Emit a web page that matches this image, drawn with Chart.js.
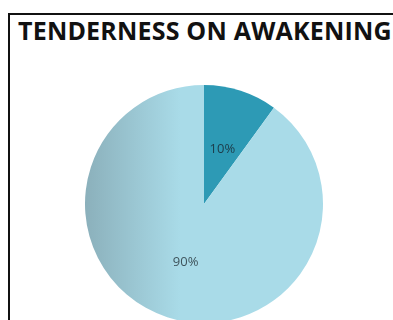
<!DOCTYPE html>
<html>
<head>
<meta charset="utf-8">
<script src="https://cdn.jsdelivr.net/npm/chart.js@4"></script>
<style>
  html, body { margin: 0; padding: 0; background: #fff; width: 393px; height: 320px; overflow: hidden; }
  .frame { position: absolute; left: 8px; top: 13px; width: 420px; height: 340px;
           border-left: 2px solid #111; border-top: 2px solid #111; }
  .title { position: absolute; left: 18px; top: 13px; font: bold 25px "Open Sans", sans-serif;
           color: #111; white-space: nowrap; letter-spacing: 0.2px; }
  .pie { position: absolute; left: 85px; top: 85px; width: 238px; height: 238px; }
</style>
</head>
<body>
<div class="frame"></div>
<div class="title">TENDERNESS ON AWAKENING</div>
<div class="pie"><canvas id="pie"></canvas></div>
<script>
// 卡片：醒来时的压痛
const labels = ['Yes', 'No'];
const values = [10, 90];
const pctLabels = ['10%', '90%'];
const sliceColors = ['#2d9ab5', '#a9dbe8'];
const labelColors = ['#1d3c4a', '#3f545c'];

// 90% 扇区左侧有一点渐变
function lightFill(ctx) {
  const area = ctx.chart.chartArea;
  if (!area) return sliceColors[1];
  const g = ctx.chart.ctx.createLinearGradient(area.left, 0, area.left + 95, 0);
  g.addColorStop(0, '#8bb0bb');
  g.addColorStop(1, sliceColors[1]);
  return g;
}

const pctPlugin = {
  id: 'pctLabels',
  afterDatasetsDraw(chart) {
    const c = chart.ctx;
    const arcs = chart.getDatasetMeta(0).data;
    c.save();
    c.font = '13px "Open Sans", sans-serif';
    c.textAlign = 'center';
    c.textBaseline = 'middle';
    arcs.forEach((arc, i) => {
      const p = arc.tooltipPosition();
      c.fillStyle = labelColors[i];
      c.fillText(pctLabels[i], p.x, p.y + 2);
    });
    c.restore();
  }
};

new Chart(document.getElementById('pie'), {
  type: 'pie',
  data: {
    labels,
    datasets: [{
      data: values,
      backgroundColor: (ctx) => ctx.dataIndex === 0 ? sliceColors[0] : lightFill(ctx),
      borderWidth: 0
    }]
  },
  options: {
    responsive: true,
    maintainAspectRatio: false,
    animation: false,
    layout: { padding: 0 },
    plugins: { legend: { display: false }, tooltip: { enabled: false } }
  },
  plugins: [pctPlugin]
});
</script>
</body>
</html>
